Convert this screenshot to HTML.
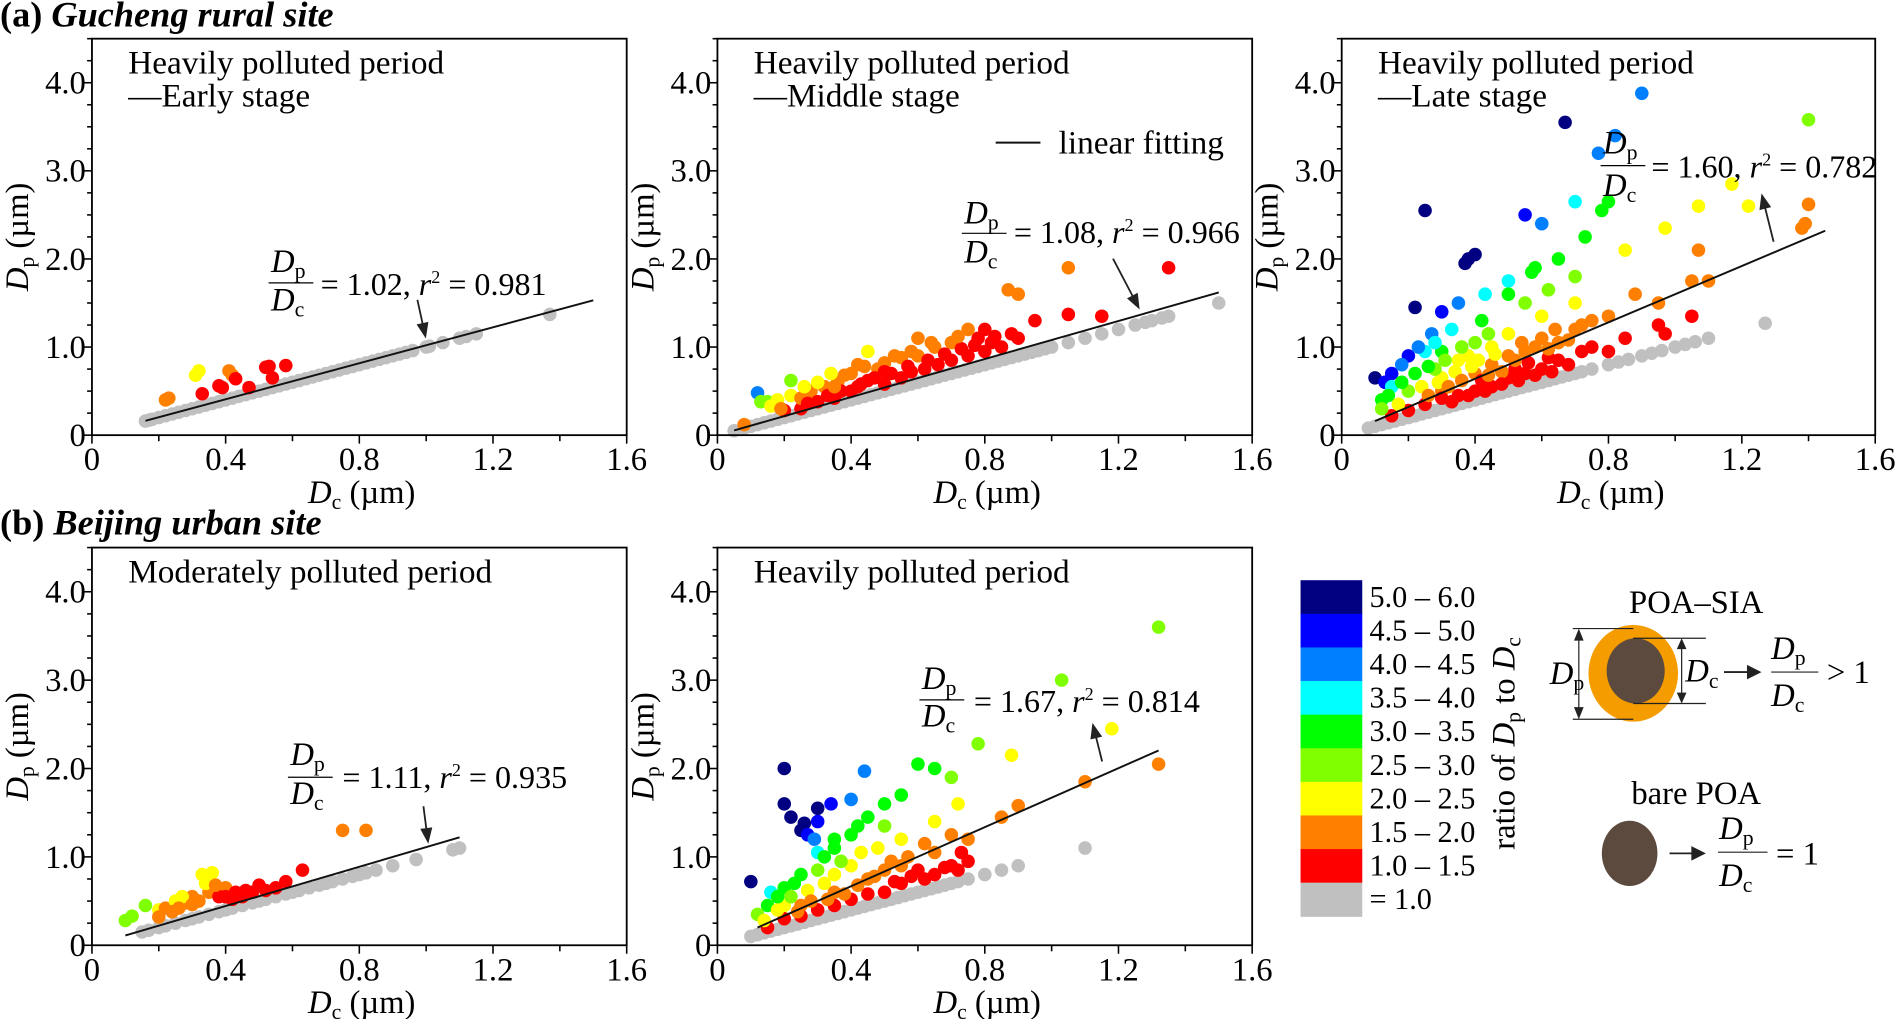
<!DOCTYPE html>
<html><head><meta charset="utf-8"><style>
html,body{margin:0;padding:0;background:#fff;}
svg{display:block;font-family:"Liberation Serif",serif;}
</style></head><body>
<svg id="fig" width="1897" height="1019" viewBox="0 0 1568 843" preserveAspectRatio="none" xmlns="http://www.w3.org/2000/svg">
<text x="0" y="22" font-size="30" font-weight="bold">(a) <tspan font-style="italic">Gucheng rural site</tspan></text>
<text x="0" y="442" font-size="30" font-weight="bold">(b) <tspan font-style="italic">Beijing urban site</tspan></text>
<g id="panels"></g>
<g id="cbar"></g>
<text transform="translate(1252,615) rotate(-90)" text-anchor="middle" font-size="27">ratio of <tspan font-style="italic">D</tspan><tspan font-size="18" dy="5">p</tspan><tspan dy="-5"> to </tspan><tspan font-style="italic">D</tspan><tspan font-size="18" dy="5">c</tspan></text>
<g>
<text x="1402" y="507" text-anchor="middle" font-size="27">POA–SIA</text>
<ellipse cx="1350" cy="557" rx="37" ry="40" fill="#f59c00"/>
<ellipse cx="1352" cy="555" rx="24" ry="27" fill="#5c4a3f"/>
<g stroke="#222" stroke-width="1" fill="none">
<line x1="1300" y1="520" x2="1350" y2="520"/><line x1="1300" y1="595" x2="1350" y2="595"/>
<line x1="1305" y1="522" x2="1305" y2="593"/>
<line x1="1350" y1="528" x2="1410" y2="528"/><line x1="1350" y1="582" x2="1410" y2="582"/>
<line x1="1390" y1="530" x2="1390" y2="580"/>
</g>
<path d="M1305 520 l-4 10 h8z M1305 595 l-4 -10 h8z M1390 528 l-4 9 h8z M1390 582 l-4 -9 h8z" fill="#222"/>
<text x="1281" y="566" font-size="27"><tspan font-style="italic">D</tspan><tspan font-size="18" dy="5">p</tspan></text>
<text x="1393" y="564" font-size="27"><tspan font-style="italic">D</tspan><tspan font-size="18" dy="5">c</tspan></text>
<line x1="1425" y1="556" x2="1448" y2="556" stroke="#222" stroke-width="1.5"/><path d="M1456 556 l-12 -6 v12z" fill="#222"/>
<text x="1464" y="545" font-size="27"><tspan font-style="italic">D</tspan><tspan font-size="18" dy="5">p</tspan></text>
<line x1="1464" y1="556" x2="1503" y2="556" stroke="#222" stroke-width="1"/>
<text x="1464" y="584" font-size="27"><tspan font-style="italic">D</tspan><tspan font-size="18" dy="5">c</tspan></text>
<text x="1510" y="565" font-size="27">&gt; 1</text>
<text x="1402" y="665" text-anchor="middle" font-size="27">bare POA</text>
<ellipse cx="1347" cy="706" rx="23" ry="27" fill="#5c4a3f"/>
<line x1="1380" y1="706" x2="1402" y2="706" stroke="#222" stroke-width="1.5"/><path d="M1410 706 l-12 -6 v12z" fill="#222"/>
<text x="1421" y="694" font-size="27"><tspan font-style="italic">D</tspan><tspan font-size="18" dy="5">p</tspan></text>
<line x1="1420" y1="705" x2="1461" y2="705" stroke="#222" stroke-width="1"/>
<text x="1421" y="733" font-size="27"><tspan font-style="italic">D</tspan><tspan font-size="18" dy="5">c</tspan></text>
<text x="1468" y="715" font-size="27">= 1</text>
</g>
</svg>
<script>
const NS="http://www.w3.org/2000/svg";
const binLabels=["5.0 – 6.0","4.5 – 5.0","4.0 – 4.5","3.5 – 4.0","3.0 – 3.5","2.5 – 3.0","2.0 – 2.5","1.5 – 2.0","1.0 – 1.5","= 1.0"];
const binColors=["#000080","#0000ff","#0080ff","#00ffff","#00ff00","#80ff00","#ffff00","#ff8000","#ff0000","#c0c0c0"];
const binLower=[5.0,4.5,4.0,3.5,3.0,2.5,2.0,1.5,1.02,0];
const xTicks=[0,0.4,0.8,1.2,1.6];
const xTickLabels=["0","0.4","0.8","1.2","1.6"];
const yTicks=[0,1,2,3,4];
const yTickLabels=["0","1.0","2.0","3.0","4.0"];

const grayA1=[0.16,0.17,0.18,0.2,0.22,0.24,0.26,0.28,0.3,0.32,0.34,0.36,0.38,0.4,0.42,0.44,0.46,0.48,0.5,0.52,0.54,0.56,0.58,0.6,0.62,0.64,0.66,0.68,0.7,0.72,0.74,0.76,0.78,0.8,0.82,0.84,0.86,0.88,0.9,0.92,0.94,0.96,1.0,1.01,1.05,1.1,1.12,1.15,1.37];
const colA1=[[0.22,0.40],[0.23,0.42],[0.31,0.68],[0.32,0.73],[0.33,0.47],[0.38,0.56],[0.39,0.54],[0.41,0.73],[0.42,0.68],[0.43,0.64],[0.47,0.54],[0.52,0.77],[0.53,0.78],[0.54,0.65],[0.58,0.79]];
const grayA2=[0.05,0.08,0.1,0.12,0.14,0.16,0.18,0.2,0.22,0.24,0.26,0.28,0.3,0.32,0.34,0.36,0.38,0.4,0.42,0.44,0.46,0.48,0.5,0.52,0.54,0.56,0.58,0.6,0.62,0.64,0.66,0.68,0.7,0.72,0.74,0.76,0.78,0.8,0.82,0.84,0.86,0.88,0.9,0.92,0.94,0.96,0.98,1.0,1.05,1.1,1.15,1.2,1.25,1.28,1.3,1.33,1.35,1.5];
const colA2=[[0.08,0.12],[0.12,0.48],[0.13,0.38],[0.15,0.38],[0.18,0.4],[0.22,0.62],[0.22,0.45],[0.2,0.28],[0.25,0.3],[0.25,0.42],[0.28,0.5],[0.3,0.38],[0.32,0.55],[0.35,0.42],[0.36,0.6],[0.4,0.5],[0.4,0.7],[0.42,0.55],[0.45,0.95],[0.45,0.62],[0.48,0.75],[0.5,0.58],[0.5,0.82],[0.55,0.65],[0.55,0.88],[0.58,0.72],[0.6,0.9],[0.62,0.75],[0.65,1.0],[0.66,0.8],[0.7,0.85],[0.7,1.05],[0.75,0.9],[0.78,1.1],[0.8,0.95],[0.82,1.05],[0.85,1.0],[0.87,1.65],[0.9,1.6],[0.9,1.1],[0.95,1.3],[1.05,1.9],[1.05,1.37],[1.15,1.35],[1.35,1.9],[0.26,0.55],[0.34,0.7],[0.44,0.78],[0.6,1.1],[0.75,1.2],
 [0.27,0.36],[0.33,0.45],[0.37,0.5],[0.43,0.58],[0.47,0.65],[0.52,0.7],[0.57,0.78],[0.63,0.85],[0.68,0.92],[0.73,0.98],[0.77,1.02],[0.83,1.12],[0.88,1.15],[0.3,0.6],[0.38,0.68],[0.42,0.8],[0.53,0.9],[0.58,0.95],[0.64,1.05],[0.72,1.12],[0.8,1.2],[0.16,0.33],[0.19,0.3],[0.35,0.55],[0.5,0.72]];
const grayA3=[0.08,0.1,0.12,0.14,0.16,0.18,0.2,0.22,0.24,0.26,0.28,0.3,0.32,0.34,0.36,0.38,0.4,0.42,0.44,0.46,0.48,0.5,0.52,0.54,0.56,0.58,0.6,0.62,0.64,0.66,0.68,0.7,0.72,0.75,0.8,0.83,0.86,0.9,0.93,0.96,1.0,1.03,1.06,1.1,1.27];
const colA3=[[0.1,0.65],[0.22,1.45],[0.25,2.55],[0.37,1.95],[0.38,2.0],[0.67,3.55],[0.13,0.6],[0.2,0.9],[0.27,1.15],[0.4,2.05],[0.35,1.5],[0.82,3.4],[0.77,3.2],[0.9,3.88],[0.7,2.65],[0.15,0.7],[0.25,0.95],[0.3,1.4],[0.55,2.5],[0.42,1.3],[0.5,1.75],[0.43,1.6],[0.33,1.2],[0.15,0.55],[0.57,1.85],[0.58,1.9],[0.7,1.8],[0.78,2.55],[0.6,2.4],[0.5,1.6],[0.3,0.95],[0.12,0.4],[0.65,2.0],[0.73,2.25],[0.8,2.65],[1.4,3.58],[0.4,1.05],[0.55,1.5],[0.62,1.65],[0.2,0.5],[0.85,2.1],[0.97,2.35],[1.07,2.6],[1.17,2.85],[1.22,2.6],[1.07,2.1],[0.45,1.0],[0.5,1.15],[0.35,0.85],[0.6,1.35],[0.7,1.5],[0.3,0.65],[1.4,2.62],[1.38,2.35],[1.39,2.4],[1.1,1.75],[0.88,1.6],[0.8,1.35],[0.6,1.1],[0.5,0.9],[0.4,0.7],[0.3,0.5],[0.7,1.2],[1.05,1.75],[0.95,1.5],[0.75,1.3],[0.65,1.05],[0.55,0.95],[0.45,0.8],[0.25,0.35],[0.35,0.45],[0.45,0.55],[0.55,0.7],[0.65,0.85],[0.75,1.0],[0.85,1.1],[0.95,1.25],[0.97,1.15],[1.05,1.35],[0.6,0.75],[0.5,0.65],[0.4,0.5],[0.8,0.95],[0.3,0.42],[0.2,0.28],[0.42,0.62],[0.52,0.75],[0.62,0.88],[0.72,0.95],[0.15,0.22],
 [0.12,0.3],[0.14,0.45],[0.17,0.35],[0.18,0.6],[0.22,0.7],[0.24,0.55],[0.26,0.45],[0.28,0.75],[0.29,0.6],[0.32,0.55],[0.34,0.72],[0.36,0.62],[0.38,0.9],[0.39,0.78],[0.41,0.85],[0.44,0.68],[0.46,0.92],[0.48,0.72],[0.52,0.85],[0.54,1.05],[0.56,0.82],[0.58,1.0],[0.62,0.98],[0.64,1.2],[0.68,1.08],[0.72,1.25],[0.26,0.78],[0.31,0.85],[0.36,1.0],[0.44,1.15],[0.33,0.38],[0.38,0.45],[0.43,0.5],[0.48,0.58],[0.53,0.62],[0.58,0.68],[0.63,0.72],[0.68,0.8],[0.18,0.8],[0.23,1.0],[0.28,1.05]];
const grayB1=[0.15,0.17,0.2,0.22,0.25,0.28,0.3,0.32,0.35,0.38,0.4,0.42,0.45,0.48,0.5,0.52,0.55,0.58,0.6,0.62,0.65,0.68,0.7,0.72,0.75,0.78,0.8,0.82,0.85,0.9,0.97,1.08,1.1];
const colB1=[[0.1,0.28],[0.12,0.33],[0.16,0.45],[0.2,0.4],[0.22,0.42],[0.25,0.5],[0.3,0.55],[0.33,0.8],[0.36,0.82],[0.35,0.6],[0.4,0.65],[0.43,0.6],[0.5,0.68],[0.55,0.65],[0.63,0.85],[0.58,0.72],[0.75,1.3],[0.82,1.3],[0.28,0.48],[0.38,0.55],[0.45,0.55],[0.24,0.38],[0.32,0.5],[0.27,0.55],[0.4,0.55],[0.48,0.6],[0.34,0.7],[0.37,0.68],[0.42,0.52],[0.46,0.62],[0.52,0.62],[0.3,0.46],[0.2,0.32],[0.26,0.42]];
const grayB2=[0.1,0.12,0.14,0.16,0.18,0.2,0.22,0.24,0.26,0.28,0.3,0.32,0.34,0.36,0.38,0.4,0.42,0.44,0.46,0.48,0.5,0.52,0.54,0.56,0.58,0.6,0.62,0.64,0.66,0.68,0.7,0.72,0.75,0.8,0.85,0.9,1.1];
const colB2=[[0.2,2.0],[0.2,1.6],[0.22,1.45],[0.1,0.72],[0.25,1.3],[0.26,1.38],[0.3,1.4],[0.27,1.25],[0.44,1.97],[0.3,1.55],[0.34,1.6],[0.4,1.65],[0.29,1.2],[0.16,0.6],[0.3,1.05],[0.35,1.2],[0.2,0.65],[0.25,0.8],[0.35,1.1],[0.45,1.45],[0.5,1.6],[0.55,1.7],[0.6,2.05],[0.65,2.0],[0.4,1.25],[0.15,0.45],[0.3,0.85],[0.5,1.35],[0.78,2.28],[1.03,3.0],[1.32,3.6],[0.7,1.9],[0.2,0.45],[0.4,0.9],[0.55,1.2],[0.65,1.4],[0.72,1.6],[0.88,2.15],[1.18,2.45],[0.35,0.8],[0.25,0.45],[0.35,0.6],[0.45,0.75],[0.55,0.9],[0.65,1.05],[0.75,1.2],[0.85,1.45],[0.9,1.58],[1.1,1.85],[1.32,2.05],[0.5,0.85],[0.15,0.2],[0.25,0.33],[0.35,0.45],[0.45,0.58],[0.55,0.7],[0.65,0.8],[0.7,0.9],[0.75,0.95],[0.6,0.85],[0.4,0.52],[0.3,0.4],[0.5,0.6],[0.62,0.75],[0.72,0.85],[0.2,0.3],
 [0.12,0.35],[0.14,0.28],[0.18,0.4],[0.22,0.55],[0.24,0.38],[0.27,0.62],[0.28,0.5],[0.32,0.7],[0.33,0.52],[0.37,0.95],[0.38,0.58],[0.42,0.68],[0.43,1.05],[0.47,0.78],[0.48,1.1],[0.52,0.95],[0.53,0.72],[0.57,1.0],[0.58,0.78],[0.62,1.15],[0.68,0.88],[0.7,1.25],[0.73,1.05],[0.18,0.55],[0.23,0.7],[0.32,1.0],[0.42,1.35]];
const fitSlope=[1.02,1.08,1.60,1.11,1.67];
const fitR2=["0.981","0.966","0.782","0.935","0.814"];
const fitRange=[[0.16,1.5],[0.05,1.5],[0.1,1.45],[0.1,1.1],[0.12,1.32]];

const panels=[
 {name:"panel-a-early",x0:76,x1:518,yTop:32,y0:360,title:["Heavily polluted period","—Early stage"],gray:grayA1,col:colA1,k:0,
  frac:[222,225,234,257,265,244],arrow:[345,248,352,280]},
 {name:"panel-a-middle",x0:593,x1:1035,yTop:32,y0:360,title:["Heavily polluted period","—Middle stage"],gray:grayA2,col:colA2,k:1,
  frac:[795,185,193,217,838,201],arrow:[920,214,942,256],legend:true},
 {name:"panel-a-late",x0:1109,x1:1550,yTop:32,y0:360,title:["Heavily polluted period","—Late stage"],gray:grayA3,col:colA3,k:2,
  frac:[1323,127,137,162,1365,147],arrow:[1466,200,1456,160]},
 {name:"panel-b-moderate",x0:76,x1:518,yTop:453,y0:782,title:["Moderately polluted period"],gray:grayB1,col:colB1,k:3,
  frac:[238,633,643,665,283,652],arrow:[350,667,354,698]},
 {name:"panel-b-heavy",x0:593,x1:1035,yTop:453,y0:782,title:["Heavily polluted period"],gray:grayB2,col:colB2,k:4,
  frac:[760,570,579,601,805,589],arrow:[911,630,903,598]}
];
function mk(tag,attrs,parent,txt){const e=document.createElementNS(NS,tag);for(const a in attrs)e.setAttribute(a,attrs[a]);if(txt!==undefined)e.textContent=txt;parent.appendChild(e);return e;}
function colorFor(r){for(let i=0;i<binLower.length;i++){if(r>=binLower[i])return binColors[i];}return binColors[9];}
function sub(parent,x,y,sym,s,fs){const t=mk("text",{x:x,y:y,"font-size":fs||27},parent);mk("tspan",{"font-style":"italic"},t,sym);mk("tspan",{"font-size":(fs||27)*0.67,dy:5},t,s);return t;}
const root=document.getElementById("panels");
panels.forEach(p=>{
 const g=mk("g",{},root);
 
 
 const yMax=4.5,xMax=1.6;
 const sx=v=>p.x0+(v/xMax)*(p.x1-p.x0);
 const sy=v=>p.y0-(v/yMax)*(p.y0-p.yTop);
 const pg=mk("g",{},g);
 
 
 p.gray.forEach(v=>{const c=mk("circle",{cx:sx(v),cy:sy(v),r:5.6,fill:binColors[9]},pg);
  
  });
 p.col.forEach(d=>{const c=mk("circle",{cx:sx(d[0]),cy:sy(d[1]),r:5.6,fill:colorFor(d[1]/d[0])},pg);
  
  });
 const fr=fitRange[p.k],m=fitSlope[p.k];
 const fl=mk("line",{x1:sx(fr[0]),y1:sy(m*fr[0]),x2:sx(fr[1]),y2:sy(m*fr[1]),stroke:"#111","stroke-width":1.6},g);
 
 
 const fr2=mk("rect",{x:p.x0,y:p.yTop,width:p.x1-p.x0,height:p.y0-p.yTop,fill:"none",stroke:"#000","stroke-width":1.5},g);
 
 
 for(let v=0;v<=4.5001;v+=0.25){const maj=Math.abs(v-Math.round(v))<1e-6;mk("line",{x1:p.x0,x2:p.x0-(maj?7:4),y1:sy(v),y2:sy(v),stroke:"#000","stroke-width":1.3},g);}
 for(let v=0;v<=1.6001;v+=0.2){mk("line",{x1:sx(v),x2:sx(v),y1:p.y0,y2:p.y0+(Math.abs(v/0.4-Math.round(v/0.4))<1e-6?7:5),stroke:"#000","stroke-width":1.3},g);}
 yTicks.forEach((v,i)=>{const t=mk("text",{x:p.x0-5,y:sy(v)+9,"text-anchor":"end","font-size":27},g,yTickLabels[i]);
  
  });
 xTicks.forEach((v,i)=>{const t=mk("text",{x:sx(v),y:p.y0+29,"text-anchor":"middle","font-size":27},g,xTickLabels[i]);
  
  });
 const xt=mk("text",{x:(p.x0+p.x1)/2+2,y:p.y0+56,"font-size":27,"text-anchor":"middle"},g);
 
 
 mk("tspan",{"font-style":"italic"},xt,"D");mk("tspan",{"font-size":18,dy:5},xt,"c");mk("tspan",{dy:-5},xt," (µm)");
 const yt=mk("text",{transform:`translate(${p.x0-53},${(p.yTop+p.y0)/2}) rotate(-90)`,"text-anchor":"middle","font-size":27},g);
 
 
 mk("tspan",{"font-style":"italic"},yt,"D");mk("tspan",{"font-size":18,dy:5},yt,"p");mk("tspan",{dy:-5},yt," (µm)");
 p.title.forEach((s,i)=>{const t=mk("text",{x:p.x0+30,y:p.yTop+29+i*27,"font-size":27.5},g,s);
  
  });
 const f=p.frac;const ag=mk("g",{},g);
 
 
 sub(ag,f[0]+2,f[1],"D","p");
 mk("line",{x1:f[0],x2:f[0]+37,y1:f[2],y2:f[2],stroke:"#000","stroke-width":1},ag);
 sub(ag,f[0]+2,f[3],"D","c");
 const et=mk("text",{x:f[4],y:f[5],"font-size":26.5},ag);
 mk("tspan",{},et,"= "+fitSlope[p.k].toFixed(2)+", ");mk("tspan",{"font-style":"italic"},et,"r");mk("tspan",{"font-size":15,dy:-10},et,"2");mk("tspan",{dy:10},et," = "+fitR2[p.k]);
 const a=p.arrow;const dx=a[2]-a[0],dy=a[3]-a[1],L=Math.hypot(dx,dy),ux=dx/L,uy=dy/L;
 mk("line",{x1:a[0],y1:a[1],x2:a[2]-ux*10,y2:a[3]-uy*10,stroke:"#222","stroke-width":1.5},ag);
 mk("path",{d:`M${a[2]} ${a[3]} L${a[2]-ux*13-uy*5} ${a[3]-uy*13+ux*5} L${a[2]-ux*13+uy*5} ${a[3]-uy*13-ux*5}Z`,fill:"#222"},ag);
 if(p.legend){const lg=mk("g",{},g);
  
  
  mk("line",{x1:823,x2:860,y1:118,y2:118,stroke:"#111","stroke-width":1.6},lg);
  mk("text",{x:875,y:127,"font-size":27.5},lg,"linear fitting");}
});
const cb=document.getElementById("cbar");
binColors.forEach((c,i)=>{const r=mk("rect",{x:1075,y:480+i*27.8,width:51,height:28.3,fill:c},cb);
 
 
 const t=mk("text",{x:1132,y:480+i*27.8+22,"font-size":25},cb,binLabels[i]);
 
 });
</script>
</body></html>
